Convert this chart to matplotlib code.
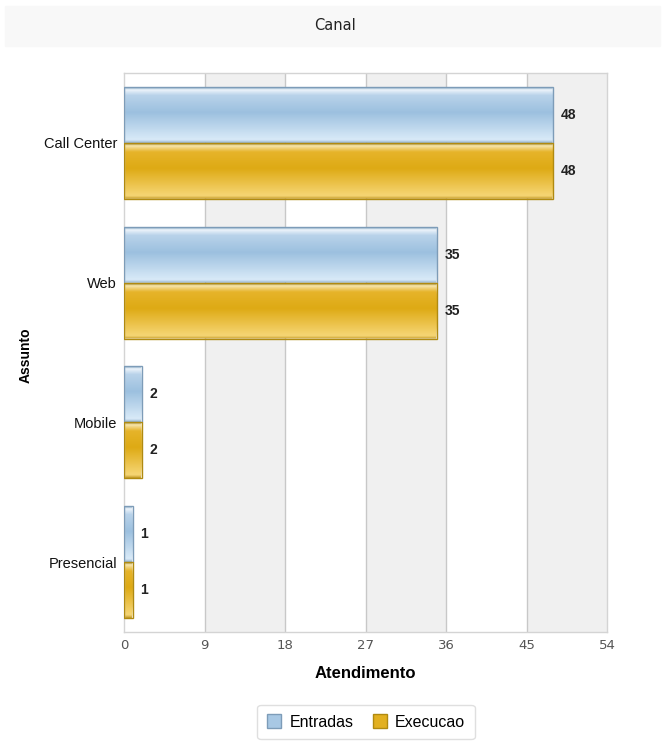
import numpy as np
import matplotlib
matplotlib.use("Agg")
import matplotlib.pyplot as plt
from matplotlib.patches import Rectangle, FancyBboxPatch, Patch
from matplotlib.colors import LinearSegmentedColormap

# data
categories = ["Call Center", "Web", "Mobile", "Presencial"]
entradas = [48, 35, 2, 1]
execucao = [48, 35, 2, 1]
series_names = ["Entradas", "Execucao"]
xticks = [0, 9, 18, 27, 36, 45, 54]

blue_cmap = LinearSegmentedColormap.from_list(
    "blue", [(0.0, "#8eaecb"), (0.04, "#eef5fb"), (0.14, "#b9d3ea"), (0.45, "#9cc0df"),
             (0.95, "#d9eaf8"), (1.0, "#9ab7d0")])
gold_cmap = LinearSegmentedColormap.from_list(
    "gold", [(0.0, "#c89e20"), (0.04, "#f7e6b0"), (0.15, "#e6b42a"), (0.45, "#deaa14"),
             (0.95, "#f6d675"), (1.0, "#c9a030")])
edges = ["#7d9cb8", "#b08a10"]
sans = ["Liberation Sans", "DejaVu Sans"]

fig = plt.figure(figsize=(6.64, 7.49), dpi=100)

# title band
fig.patches.append(Rectangle((5/664, 1-46/749), 655/664, 40/749,
                             transform=fig.transFigure, color="#f8f8f8", zorder=0))
fig.text(335/664, 1-25/749, "Canal", ha="center", va="center", fontsize=10.5,
         color="#222222", family="DejaVu Sans")

ax = fig.add_axes([124/664, 1-632/749, 483/664, 559/749])

# alternating bands
for i in range(len(xticks) - 1):
    if i % 2 == 1:
        ax.axvspan(xticks[i], xticks[i+1], color="#f0f0f0", zorder=0, lw=0)
for xv in xticks[1:-1]:
    ax.axvline(xv, color="#c8c8c8", lw=1, zorder=1)

y = np.arange(len(categories))
h = 0.4
grad = np.linspace(0, 1, 64).reshape(-1, 1)
for k, (vals, cmap) in enumerate([(entradas, blue_cmap), (execucao, gold_cmap)]):
    offs = -h/2 if k == 0 else h/2
    bars = ax.barh(y + offs, vals, height=h, color="none",
                   edgecolor=edges[k], lw=1.0, zorder=3)
    for bar, v in zip(bars, vals):
        x0, y0 = bar.get_x(), bar.get_y()
        w, bh = bar.get_width(), bar.get_height()
        im = ax.imshow(grad, cmap=cmap, aspect="auto",
                       extent=(x0, x0 + w, y0 + bh, y0), origin="upper", zorder=2)
        clip = FancyBboxPatch((x0, y0), w, bh, boxstyle="round,pad=0,rounding_size=0.15",
                              transform=ax.transData, fc="none", ec="none")
        ax.add_patch(clip)
        im.set_clip_path(clip)
        ax.text(v + 0.8, y0 + bh/2, str(v), va="center", ha="left",
                fontsize=10, fontweight="bold", color="#222222", zorder=4, family=sans)

ax.set_ylim(len(categories) - 0.5, -0.5)
ax.set_xlim(0, 54)
ax.set_xticks(xticks)
ax.set_xticklabels([str(t) for t in xticks], color="#555555", fontsize=9.5,
                   family="DejaVu Sans")
ax.set_yticks(y)
ax.set_yticklabels(categories, fontsize=10.5, family=sans, color="#111111")
ax.tick_params(axis="both", length=0, pad=5)
for s in ax.spines.values():
    s.set_color("#d4d4d4")
    s.set_linewidth(1)

ax.set_xlabel("Atendimento", fontsize=12, fontweight="bold", family=sans, labelpad=10)
fig.text(26/664, 1-355/749, "Assunto", rotation=90, ha="center", va="center",
         fontsize=10, fontweight="bold", family=sans)

handles = [Patch(facecolor="#a8c8e4", edgecolor=edges[0]),
           Patch(facecolor="#e2b020", edgecolor=edges[1])]
leg = fig.legend(handles, series_names, loc="center", bbox_to_anchor=(366/664, 1-722/749),
                 ncol=2, frameon=True, handlelength=0.9, handleheight=0.9,
                 columnspacing=1.2, handletextpad=0.5, fancybox=True, shadow=False,
                 prop={"family": sans, "size": 11.5}, borderpad=0.6)
leg.get_frame().set_edgecolor("#d8d8d8")

fig.savefig("out.png", dpi=100)
